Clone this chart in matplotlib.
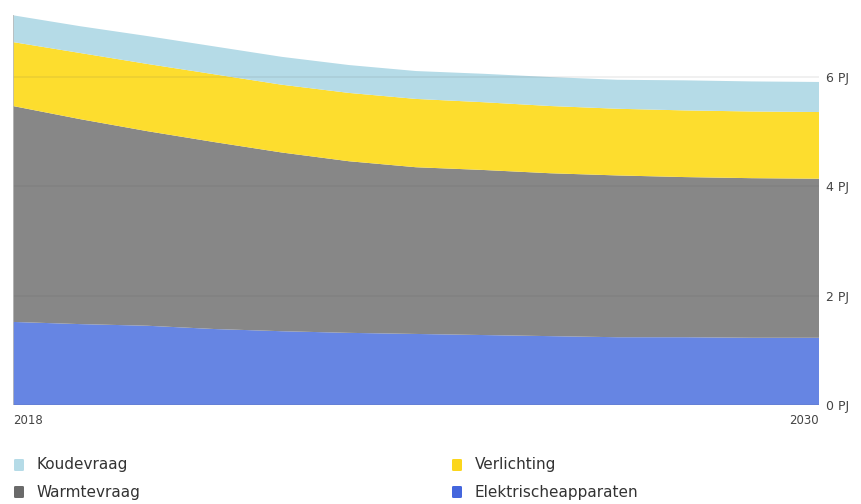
import matplotlib.pyplot as plt
from matplotlib.patches import FancyBboxPatch
import numpy as np

# energy demand per year in PJ
years = list(range(2018, 2031))
elektrisch = [1.52, 1.48, 1.45, 1.39, 1.35, 1.32, 1.30, 1.28, 1.26, 1.24, 1.24, 1.23, 1.23]
warmte = [3.95, 3.75, 3.56, 3.42, 3.27, 3.14, 3.05, 3.02, 2.98, 2.96, 2.93, 2.92, 2.91]
verlichting = [1.17, 1.21, 1.23, 1.24, 1.24, 1.25, 1.25, 1.24, 1.23, 1.22, 1.22, 1.22, 1.22]
koude = [0.49, 0.49, 0.51, 0.51, 0.51, 0.51, 0.51, 0.52, 0.53, 0.53, 0.55, 0.55, 0.55]

series_names = ['Elektrischeapparaten', 'Warmtevraag', 'Verlichting', 'Koudevraag']
area_colors = ['#6685e3', '#878787', '#fddd2e', '#b5dbe7']
legend_colors = {'Koudevraag': '#b5dbe7', 'Verlichting': '#fbd61c',
                 'Warmtevraag': '#6a6a6a', 'Elektrischeapparaten': '#4466dd'}
legend_order = [['Koudevraag', 'Warmtevraag'], ['Verlichting', 'Elektrischeapparaten']]
y_ticks = [0, 2, 4, 6]

fig = plt.figure(figsize=(8.62, 5.04), dpi=100)
ax = fig.add_axes([13 / 862, 1 - 405 / 504, (819 - 13) / 862, 399 / 504])

ax.stackplot(years, elektrisch, warmte, verlichting, koude,
             colors=area_colors, linewidth=0)

ax.set_xlim(years[0], years[-1])
ax.set_ylim(0, 7.3)

# faint grid lines drawn over the areas
for t in y_ticks:
    ax.axhline(t, color='#555555', alpha=0.1, linewidth=1.2, zorder=3)
total0 = elektrisch[0] + warmte[0] + verlichting[0] + koude[0]
ax.vlines(years[0], 0, total0, color='#bbbbbb', linewidth=1.2, zorder=3)

for s in ax.spines.values():
    s.set_visible(False)
ax.set_xticks([])
ax.yaxis.tick_right()
ax.set_yticks(y_ticks)
ax.set_yticklabels(['%d PJ' % t for t in y_ticks], fontsize=9, color='#444444')
ax.tick_params(axis='y', length=0, pad=5)

fig.text(13 / 862, 1 - 421 / 504, str(years[0]), fontsize=8.5, color='#444444',
         ha='left', va='center')
fig.text(819 / 862, 1 - 421 / 504, str(years[-1]), fontsize=8.5, color='#444444',
         ha='right', va='center')

# legend: two columns of rounded square markers
col_x = [14, 452]
row_y = [465, 492]
for ci, col in enumerate(legend_order):
    for ri, name in enumerate(col):
        x0 = col_x[ci] / 862
        y0 = 1 - (row_y[ri] + 6) / 504
        fig.patches.append(FancyBboxPatch((x0, y0), 10 / 862, 12 / 504,
                                          boxstyle='round,pad=0,rounding_size=0.002',
                                          transform=fig.transFigure,
                                          facecolor=legend_colors[name], edgecolor='none'))
        fig.text((col_x[ci] + 23) / 862, 1 - row_y[ri] / 504, name,
                 fontsize=11, color='#333333', ha='left', va='center')

plt.savefig('out.png', dpi=100)
